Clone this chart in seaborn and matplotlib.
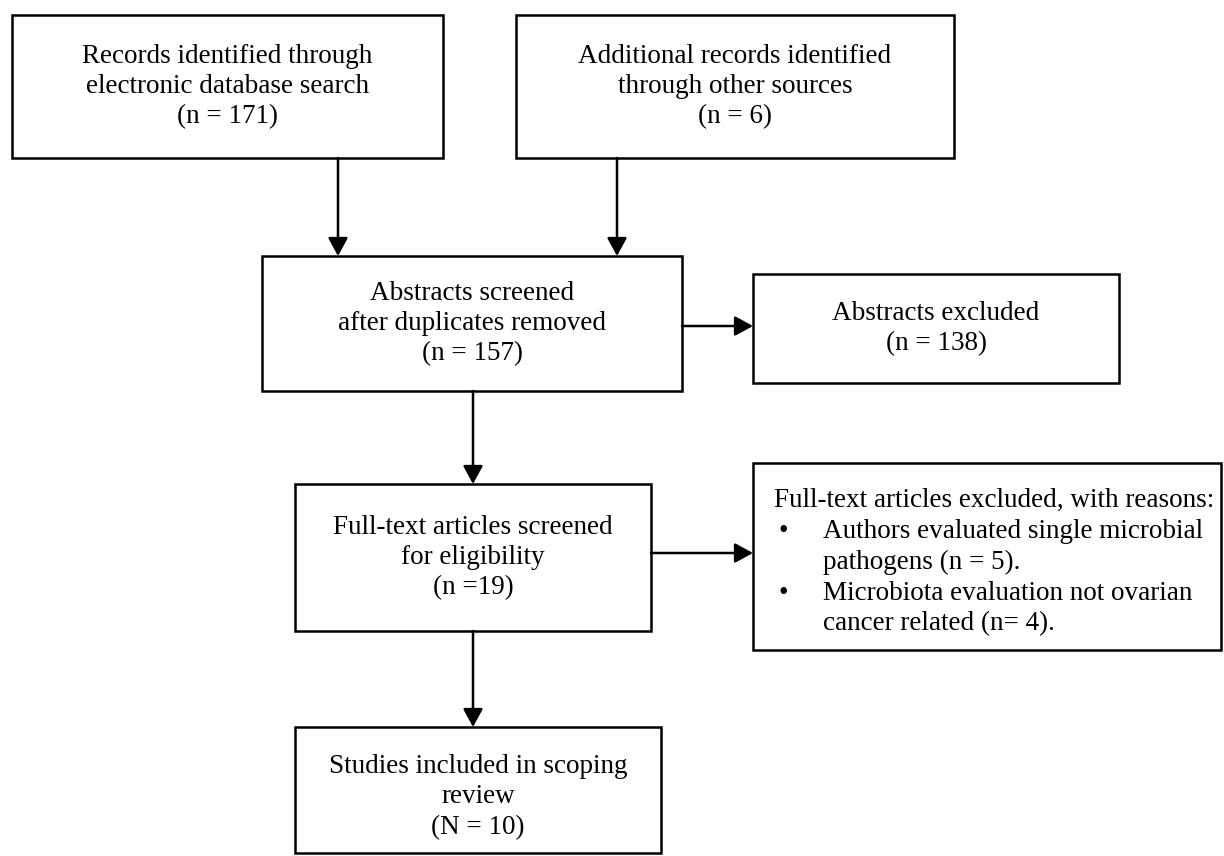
import matplotlib
matplotlib.use("Agg")
import matplotlib.pyplot as plt
import seaborn as sns
from matplotlib.patches import Rectangle, FancyArrowPatch

# ---- data ----
box_titles = [
    "Records identified through\nelectronic database search",
    "Additional records identified\nthrough other sources",
    "Abstracts screened\nafter duplicates removed",
    "Abstracts excluded",
    "Full-text articles screened\nfor eligibility",
    "Studies included in scoping\nreview",
]
box_count_labels = ["(n = 171)", "(n = 6)", "(n = 157)", "(n = 138)", "(n =19)", "(N = 10)"]
excl_header = "Full-text articles excluded, with reasons:"
excl_reasons = [["Authors evaluated single microbial", "pathogens (n = 5)."],
                ["Microbiota evaluation not ovarian", "cancer related (n= 4)."]]

# ---- layout (pixels, y downwards) ----
boxes = [  # x0, y0, x1, y1
    (12, 15, 443, 158),
    (516, 15, 954, 158),
    (262, 256, 682, 391),
    (753, 274, 1119, 383),
    (295, 484, 651, 631),
    (295, 727, 661, 853),
]
excl_box = (753, 463, 1221, 650)

sns.set_theme(style="white")
plt.rcParams['font.family'] = ['Liberation Serif', 'DejaVu Serif']

fig = plt.figure(figsize=(12.24, 8.56), dpi=100)
ax = fig.add_axes([0, 0, 1, 1])
ax.set_xlim(0, 1224)
ax.set_ylim(856, 0)
ax.axis("off")

FS = 19.5
LW = 1.8
LS = 1.28

def draw_box(b):
    x0, y0, x1, y1 = b
    ax.add_patch(Rectangle((x0, y0), x1 - x0, y1 - y0, fill=False,
                           edgecolor="black", linewidth=LW))

for i, (b, t, c) in enumerate(zip(boxes, box_titles, box_count_labels)):
    draw_box(b)
    x0, y0, x1, y1 = b
    cy = (y0 + y1) / 2
    if i == 5:
        cy = 797
    ax.text((x0 + x1) / 2, cy, t + "\n" + c, ha="center", va="center",
            fontsize=FS, linespacing=LS, color="black")

draw_box(excl_box)
ex0, ey0, ex1, ey1 = excl_box
line_h = 31
ax.text(ex0 + 21, 500, excl_header, ha="left", va="center", fontsize=FS, color="black")
yy = 500 + line_h
for r in excl_reasons:
    ax.text(ex0 + 25, yy, "\u2022", ha="left", va="center", fontsize=FS, color="black")
    for ln in r:
        ax.text(ex0 + 70, yy, ln, ha="left", va="center", fontsize=FS, color="black")
        yy += line_h

def arrow(x0, y0, x1, y1):
    a = FancyArrowPatch((x0, y0), (x1, y1), arrowstyle="-|>,head_length=0.55,head_width=0.3",
                        mutation_scale=20, color="black", linewidth=LW,
                        shrinkA=0, shrinkB=0)
    ax.add_patch(a)

arrow(338, 158, 338, 256)
arrow(617, 158, 617, 256)
arrow(682, 326, 753, 326)
arrow(473, 391, 473, 484)
arrow(651, 553, 753, 553)
arrow(473, 631, 473, 727)

fig.savefig("out.png", dpi=100, facecolor="white")
